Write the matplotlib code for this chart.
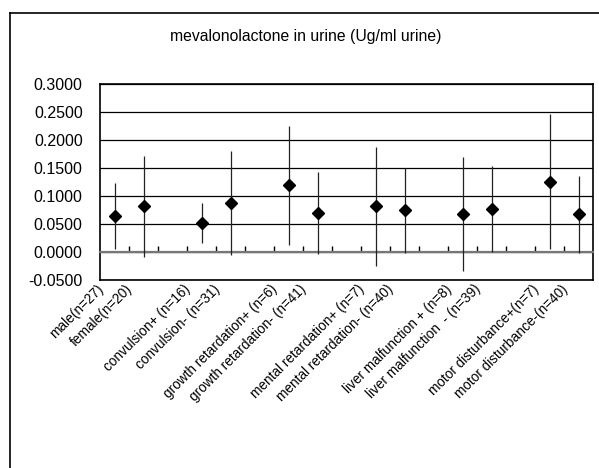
import matplotlib
matplotlib.use("Agg")
import matplotlib.pyplot as plt
from matplotlib.lines import Line2D
from matplotlib.ticker import FuncFormatter
from matplotlib.transforms import ScaledTranslation

plt.rcParams["font.family"] = ["Liberation Sans", "DejaVu Sans"]

# --- données (blancs = séparateurs entre groupes) ---
categories = ["male(n=27)", "female(n=20)", "",
              "convulsion+ (n=16)", "convulsion- (n=31)", "",
              "growth retardation+ (n=6)", "growth retardation- (n=41)", "",
              "mental retardation+ (n=7)", "mental retardation- (n=40)", "",
              "liver malfunction + (n=8)", "liver malfunction  - (n=39)", "",
              "motor disturbance+(n=7)", "motor disturbance-(n=40)"]
means = [0.0637, 0.0816, None, 0.0520, 0.0880, None, 0.1190, 0.0697, None,
         0.0816, 0.0745, None, 0.0673, 0.0768, None, 0.1260, 0.0673]
sds = [0.0590, 0.0900, None, 0.0360, 0.0930, None, 0.1070, 0.0730, None,
       0.1070, 0.0755, None, 0.1020, 0.0770, None, 0.1200, 0.0690]

x = [i for i, m in enumerate(means) if m is not None]
y = [means[i] for i in x]
err = [sds[i] for i in x]

fig = plt.figure(figsize=(5.99, 4.68), dpi=100)
ax = fig.add_axes([0.167, 0.4017, 0.823, 0.4183])

ax.errorbar(x, y, yerr=err, fmt="D", color="black", ecolor="#222222",
            elinewidth=0.9, capsize=0, markersize=5.8, zorder=3)

ax.set_xlim(-0.5, len(categories) - 0.5)
ax.set_ylim(-0.05, 0.30)
ax.set_yticks([-0.05 + 0.05 * k for k in range(8)])
ax.yaxis.set_major_formatter(FuncFormatter(lambda v, p: f"{v:.4f}"))
ax.tick_params(axis="y", length=0, pad=12.5, labelsize=11.5)
ax.grid(axis="y", color="black", linewidth=0.9)
ax.set_axisbelow(True)

# axe des catégories croisant à zéro, graduations entre catégories
ax.spines["bottom"].set_position(("data", 0))
ax.spines["bottom"].set_color("#777777")
ax.spines["bottom"].set_linewidth(1.6)
ax.set_xticks([i + 0.5 for i in range(len(categories) - 1)])
ax.tick_params(axis="x", direction="in", length=4, width=1, color="black",
               labelbottom=False)
for s in ["top", "left", "right"]:
    ax.spines[s].set_color("black")
    ax.spines[s].set_linewidth(1.2)

# libellés en bas du cadre
sec = ax.secondary_xaxis(0.0)
sec.set_xticks(range(len(categories)))
sec.set_xticklabels(categories, rotation=45, ha="right", va="top",
                    rotation_mode="anchor", fontsize=9.8)
sec.tick_params(length=0, pad=1.5)
sec.spines["bottom"].set_color("black")
sec.spines["bottom"].set_linewidth(1.2)
shift = ScaledTranslation(-18 / 100, 0, fig.dpi_scale_trans)
for lab in sec.get_xticklabels():
    lab.set_transform(lab.get_transform() + shift)

fig.text(0.51, 0.921, "mevalonolactone in urine (Ug/ml urine)",
         ha="center", va="center", fontsize=11.3)

# cadre extérieur (gauche et haut)
fig.add_artist(Line2D([10 / 599, 10 / 599], [0, 1 - 13 / 468], color="black", lw=1.2))
fig.add_artist(Line2D([10 / 599, 1], [1 - 13 / 468, 1 - 13 / 468], color="black", lw=1.2))

fig.savefig("out.png", dpi=100)
